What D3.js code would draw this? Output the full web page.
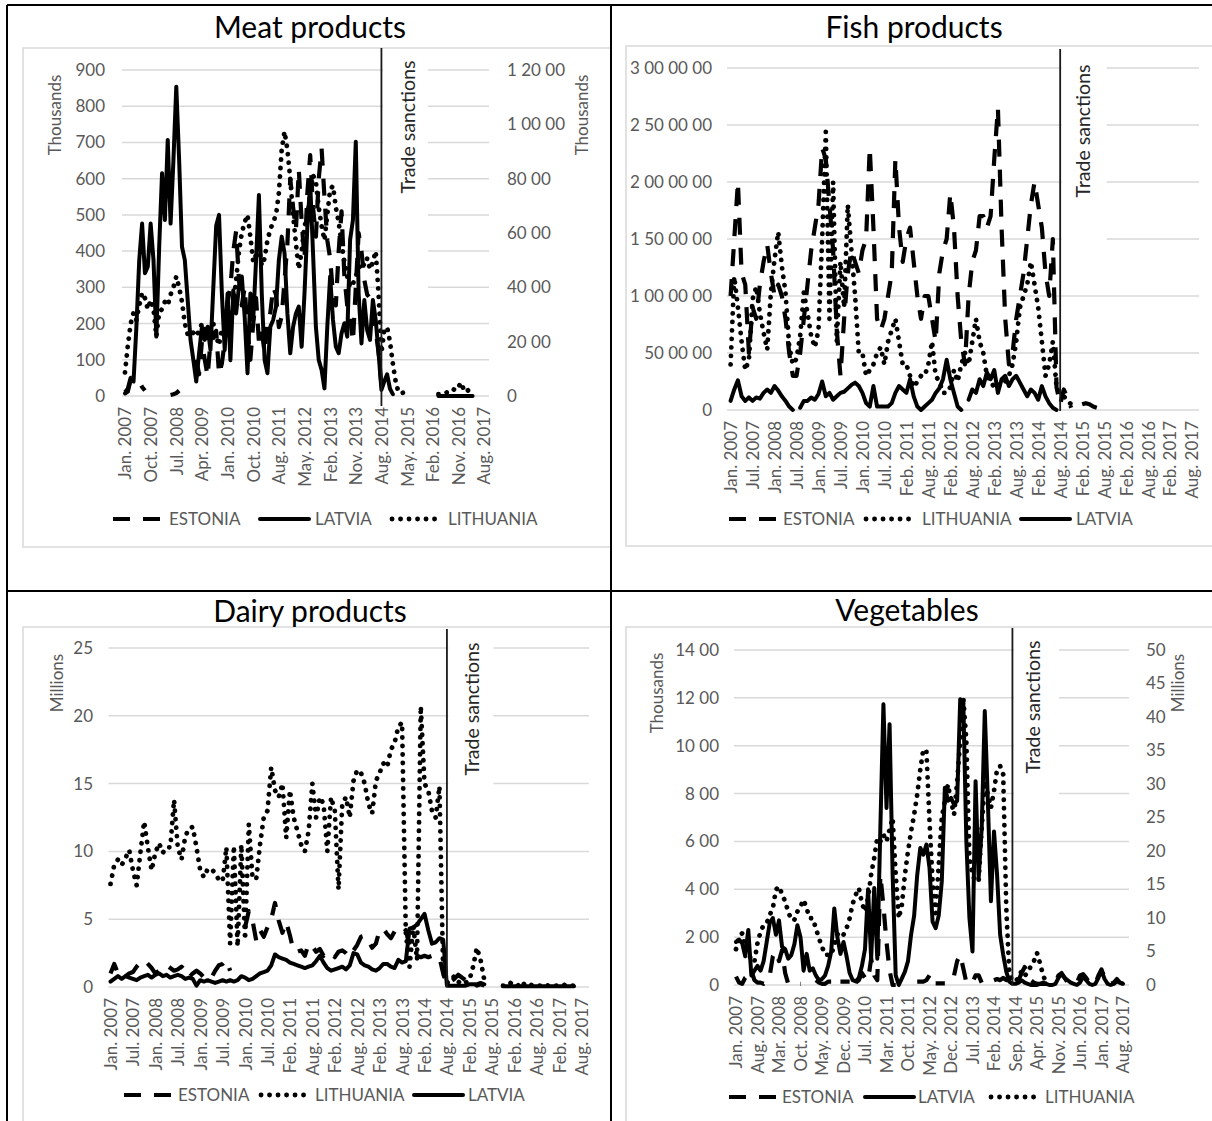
<!DOCTYPE html>
<html>
<head>
<meta charset="utf-8">
<script src="https://cdn.jsdelivr.net/npm/d3@7"></script>
<style>
  body { margin: 0; background: #fff; }
  svg text { font-family: Lato, "Open Sans", sans-serif; }
</style>
</head>
<body>
<svg id="chart" width="1212" height="1121"></svg>
<script>
// Month labels, Jan. 2007 - Aug. 2017 (Dec. 2010 is absent from the source series)
const MONTHS = ["Jan.", "Feb.", "Mar.", "Apr.", "May.", "Jun.", "Jul.", "Aug.", "Sep.", "Oct.", "Nov.", "Dec."];
const categories = [];
for (let yr = 2007; yr <= 2017; yr++) {
    for (let m = 0; m < 12; m++) {
        if (yr === 2017 && m > 7) break;
        if (yr === 2010 && m === 11) continue;
        categories.push(`${MONTHS[m]} ${yr}`);
    }
}
const SANCTIONS = "Aug. 2014";
const _ = null;

// ---- Meat products (thousands) ----
const meatEstonia = [
    10, 20, 50, 50, 45, 40, 25, 15, _, _,
    _, _, _, _, _, _, 3, 5, 8, 15,
    _, _, _, _, _, 100, 60, 150, 100, 55,
    150, 160, 180, 60, 90, 150, 260, 300, 400, 455,
    320, 250, 300, 180, 100, 200, 270, 150, 180, 120,
    200, 230, 300, 280, 190, 220, 320, 420, 600, 520,
    460, 625, 480, 380, 560, 665, 520, 440, 600, 683,
    550, 430, 380, 280, 250, 400, 510, 330, 250, 220,
    150, 300, 450, 400, 320, 280, 270, 250, 180, 120,
    30, 20, 10, _, _, _, _, _, _, _,
    _, _, _, _, _, _, _, _, _, _,
    _, _, _, _, _, _, _, _, _, _,
    _, _, _, _, _, _, _
];
const meatLatvia = [
    7, 12, 44, 40, 191, 375, 476, 339, 357, 476,
    375, 164, 412, 615, 486, 707, 476, 651, 854, 651,
    412, 375, 265, 155, 99, 40, 118, 191, 155, 191,
    127, 300, 470, 500, 283, 127, 283, 99, 292, 228,
    302, 330, 219, 63, 283, 210, 375, 555, 283, 99,
    63, 191, 210, 247, 375, 440, 394, 228, 118, 191,
    228, 247, 136, 283, 467, 587, 394, 191, 99, 72,
    21, 191, 330, 210, 136, 118, 173, 201, 164, 431,
    486, 702, 283, 145, 265, 182, 155, 265, 210, 118,
    17, 40, 60, 20, 5, _, _, _, _, _,
    _, _, _, _, _, _, _, _, _, _,
    0, 0, 0, 0, 0, 0, 0, 0, 0, 0,
    0, 0, 0, _, _, _, _
];
const meatLithuania = [
    65, 140, 200, 230, 210, 250, 285, 270, 240, 265,
    240, 165, 230, 240, 260, 250, 280, 300, 330, 300,
    260, 200, 170, 165, 175, 165, 180, 200, 190, 160,
    175, 200, 165, 140, 185, 170, 190, 200, 250, 320,
    400, 450, 480, 500, 440, 370, 390, 410, 360, 380,
    430, 460, 480, 500, 560, 680, 730, 680, 600, 500,
    420, 350, 400, 470, 490, 560, 610, 590, 520, 470,
    430, 500, 570, 580, 520, 480, 420, 370, 330, 300,
    310, 330, 350, 370, 360, 380, 350, 370, 400, 280,
    120, 180, 190, 150, 90, 40, 10, 8, 10, 8,
    8, _, _, 5, _, _, _, 10, _, _,
    5, 5, 8, 10, 15, 20, 15, 25, 37, 15,
    20, 8, _, _, _, _, _
];

// ---- Fish products (millions) ----
const fishEstonia = [
    10, 15, 20, 12, 11, 5, 9, 8, 11, 13,
    14.5, 12, 10, 11, 10, 8, 5, 3, 3, 5,
    8, 11, 14, 16, 18, 23, 22, 18, 14, 7,
    3, 8, 12, 14, 13, 12, 14, 15, 23, 16,
    8, 7, 8, 10, 12, 22, 16, 13, 15, 16,
    13, 10, 8, 10, 10, 8, 6, 12, 14, 15,
    19, 16, 10, 6, 4, 10, 13, 14, 17, 17,
    16, 17, 22, 26.5, 16, 8, 4, 5, 8, 10,
    12, 15, 18, 20, 18, 16, 12, 10, 15, 2,
    0.5, 1.8, 1.0, 0.2, _, _, 0.5, 0.6, 0.5, 0.3,
    0.2, _, _, _, _, _, _, _, _, _,
    _, _, _, _, _, _, _, _, _, _,
    _, _, _, _, _, _, _
];
const fishLatvia = [
    0.8, 1.8, 2.6, 1.2, 0.8, 1.1, 0.8, 1.1, 1.0, 1.5,
    1.8, 1.5, 2.1, 1.7, 1.2, 0.8, 0.3, 0, _, 0.2,
    0.8, 0.8, 1.1, 0.9, 1.4, 2.5, 1.2, 1.5, 0.9, 1.2,
    1.5, 1.6, 1.9, 2.2, 2.4, 2.1, 1.5, 0.6, 0.3, 2.1,
    0.3, 0.3, 0.3, 0.3, 0.6, 1.5, 2.1, 1.8, 1.5, 2.7,
    1.2, 0.3, 0, 0.3, 0.6, 0.9, 1.5, 1.9, 2.7, 4.4,
    2.7, 1.5, 0.3, 0, _, 0.9, 1.8, 1.5, 2.7, 2.1,
    3.3, 2.7, 3.5, 1.5, 2.7, 3.0, 2.1, 2.7, 3.0, 2.4,
    1.8, 1.2, 1.8, 1.5, 0.9, 2.1, 1.2, 0.6, 0.2, 0,
    _, _, _, _, _, _, _, _, _, _,
    _, _, _, _, _, _, _, _, _, _,
    _, _, _, _, _, _, _, _, _, _,
    _, _, _, _, _, _, _
];
const fishLithuania = [
    4, 11.7, 9, 6, 3.5, 4.4, 9.7, 10.8, 8.5, 6.8,
    5.3, 10.3, 13.2, 15.6, 12.6, 10.3, 5.6, 4, 4.5, 6.5,
    10.3, 8.5, 6.5, 5.5, 7, 15, 24.4, 8, 20, 6,
    13, 9, 18, 14, 10, 5, 5, 3, 3.5, 4,
    5, 5.5, 4, 6, 7, 8, 6, 4, 4, 3,
    2, 2.5, 3, 3, 4, 6, 3, 2.5, 1.5, 1.5,
    2, 3.5, 2.5, 4, 5, 4, 6, 8, 6, 5,
    3, 2.5, 2, 2, 2.5, 2.5, 3, 4, 6, 9,
    10, 11, 13, 11, 9, 6, 3, 4, 6, 2,
    1.5, 1.2, 0.8, 0.5, _, _, _, _, _, _,
    _, _, _, _, _, _, _, _, _, _,
    _, _, _, _, _, _, _, _, _, _,
    _, _, _, _, _, _, _
];

// ---- Dairy products (millions) ----
const dairyEstonia = [
    1.0, 1.7, 1.0, 0.7, 0.8, 1.0, 1.1, 1.5, 1.8, 2.0,
    1.7, 1.4, 1.0, 1.2, 1.3, 1.6, 1.4, 1.2, 1.3, 1.5,
    1.2, 0.7, 1.0, 1.2, 1.0, 0.7, 0.5, 0.7, 1.2, 1.6,
    1.7, 2.0, 1.2, _, _, _, 4.4, 5.6, 4.9, 3.4,
    4.2, 3.7, 4.4, 5.0, 6.2, 4.9, 4.0, 4.8, 3.8, 2.6,
    2.6, 2.7, 2.3, 3.2, 3.0, 2.6, 2.8, 2.3, 2.6, 2.5,
    2.2, 2.6, 2.7, 2.5, 2.2, 2.7, 3.1, 3.7, 3.8, 3.4,
    2.9, 3.2, 4.2, 4.3, 3.9, 3.6, 4.1, 4.2, 3.9, 4.2,
    3.0, 2.4, 2.3, 2.2, 2.3, 2.2, 2.3, 2.2, 2.2, 1.0,
    0.2, 0.4, 0.6, 0.9, 0.7, 0.5, 0.2, 0.3, 0.1, 0.2,
    0.1, _, _, _, _, _, _, _, _, _,
    _, _, _, _, _, _, _, _, _, _,
    _, _, _, _, _, _, _
];
const dairyLatvia = [
    0.4, 0.6, 0.8, 0.6, 0.8, 0.7, 0.6, 0.5, 0.7, 0.8,
    0.9, 0.7, 0.9, 1.0, 0.8, 0.9, 0.7, 0.8, 0.9, 0.8,
    0.6, 0.7, 0.6, 0.1, 0.5, 0.4, 0.5, 0.4, 0.3, 0.4,
    0.5, 0.4, 0.5, 0.4, 0.5, 0.8, 0.7, 0.5, 0.6, 0.8,
    1.0, 1.1, 1.2, 1.6, 2.4, 2.2, 2.1, 2.0, 1.8, 1.7,
    1.6, 1.5, 1.4, 1.5, 1.6, 1.9, 2.3, 1.8, 1.4, 1.2,
    1.3, 1.4, 1.5, 1.3, 1.6, 2.5, 2.4, 1.8, 1.6, 1.5,
    1.3, 1.2, 1.4, 1.7, 1.7, 1.5, 1.4, 2.0, 1.8, 1.9,
    4.3, 4.4, 4.6, 5.0, 5.4, 4.2, 3.2, 3.3, 3.6, 3.5,
    0.1, 0.1, 0.1, 0.1, 0.1, 0.1, 0.2, 0.2, 0.2, 0.3,
    0.2, _, _, _, _, 0.05, 0.05, 0.05, 0.05, 0.05,
    0.05, 0.05, 0.05, 0.05, 0.05, 0.05, 0.05, 0.05, 0.05, 0.05,
    0.05, 0.05, 0.05, 0.05, 0.05, _, _
];
const dairyLithuania = [
    7.6, 9.0, 9.4, 9.0, 9.5, 10.1, 8.6, 7.5, 9.9, 12.2,
    10.3, 8.6, 9.9, 10.6, 9.9, 10.3, 10.3, 13.8, 10.3, 9.4,
    11.1, 11.7, 11.8, 10.3, 8.6, 8.1, 8.7, 8.7, 8.4, 7.9,
    7.8, 10.3, 3.2, 10.4, 3.0, 10.5, 3.5, 12.0, 8.0, 8.0,
    10.5, 12.5, 13.0, 16.2, 14.5, 14.0, 15.0, 11.0, 14.5, 12.5,
    11.5, 10.5, 10.0, 11.5, 15.0, 12.5, 14.0, 13.5, 10.0, 14.0,
    13.0, 7.2, 13.5, 14.0, 12.5, 15.2, 16.0, 15.8, 15.0, 13.5,
    12.8, 15.2, 15.8, 16.5, 16.2, 17.5, 18.0, 19.2, 19.5, 4.0,
    1.5, 4.5, 2.0, 20.7, 15.0, 14.5, 13.0, 12.5, 14.8, 1.0,
    0.3, 0.5, 0.8, 0.4, 0.2, 0.3, 0.5, 1.5, 2.9, 2.0,
    0.5, _, _, _, _, 0.1, 0.1, 0.3, 0.1, 0.1,
    0.4, 0.1, 0.2, 0.1, 0.1, 0.1, 0.2, 0.1, 0.1, 0.1,
    0.1, 0.2, 0.1, 0.1, 0.1, _, _
];

// ---- Vegetables (thousands) ----
const vegEstonia = [
    35, 10, 5, 30, 40, 60, 20, 10, 10, 5,
    15, 40, 120, 140, 100, 146, 50, 5, 5, 5,
    5, 5, _, _, _, _, 20, 10, 5, 5,
    14, 14, 14, _, 14, 14, 14, 14, _, 10,
    20, 50, 30, 20, 110, 40, 20, 460, 330, 180,
    60, 0, 0, _, _, _, _, _, _, 14,
    14, 14, 20, 40, _, 7, 7, 7, 7, _,
    _, 40, 100, 126, 70, 10, 5, 10, 40, 40,
    10, _, _, _, 20, 25, 20, 30, 20, 25,
    40, 30, 20, 50, 75, 50, 20, 10, 5, 5,
    5, 5, 10, 10, 10, 40, 50, 30, 10, 5,
    5, 10, 40, 45, 30, 10, 5, 5, 40, 65,
    30, 10, 5, 10, 25, 10, 5
];
const vegLatvia = [
    180, 190, 175, 120, 230, 40, 60, 80, 60, 100,
    180, 260, 280, 210, 270, 160, 150, 110, 125, 170,
    250, 200, 60, 130, 60, 70, 40, 20, 25, 40,
    80, 140, 320, 200, 130, 180, 120, 50, 20, 15,
    30, 80, 150, 400, 110, 405, 110, 656, 1173, 740,
    1090, 460, 40, 0, 28, 56, 100, 210, 290, 460,
    573, 545, 587, 490, 265, 237, 290, 433, 824, 770,
    782, 754, 770, 1194, 1187, 600, 280, 140, 852, 447,
    656, 1145, 770, 350, 642, 460, 210, 126, 56, 14,
    5, 5, 10, 20, 10, 5, 0, 0, 0, 5,
    10, 5, 0, 0, 5, 30, 45, 30, 20, 10,
    5, 0, 10, 35, 20, 5, 0, 5, 30, 60,
    25, 5, 0, 5, 15, 10, 5
];
const vegLithuania = [
    150, 200, 216, 160, 140, 100, 98, 175, 223, 251,
    258, 293, 321, 398, 412, 380, 349, 307, 272, 272,
    307, 328, 356, 320, 279, 279, 237, 195, 160, 126,
    126, 126, 168, 210, 223, 210, 237, 279, 340, 377,
    405, 342, 307, 363, 461, 531, 615, 600, 628, 600,
    650, 698, 461, 279, 335, 461, 559, 642, 712, 796,
    900, 985, 978, 684, 433, 300, 500, 700, 768, 838,
    770, 712, 850, 1020, 1201, 1020, 531, 461, 433, 433,
    656, 852, 796, 740, 810, 901, 915, 880, 321, 42,
    20, 15, 30, 60, 40, 50, 80, 100, 134, 90,
    40, 10, _, _, _, 5, _, _, _, _,
    _, _, _, _, _, _, _, _, _, _,
    _, _, _, _, _, _, _
];

// Axis ticks and their printed labels
const meatTicks = [0, 100, 200, 300, 400, 500, 600, 700, 800, 900];
const meatTickLabels = ["0", "100", "200", "300", "400", "500", "600", "700", "800", "900"];
const meatRightTicks = [0, 2000, 4000, 6000, 8000, 10000, 12000];
const meatRightLabels = ["0", "20 00", "40 00", "60 00", "80 00", "1 00 00", "1 20 00"];
const fishTicks = [0, 5, 10, 15, 20, 25, 30];
const fishTickLabels = ["0", "50 00 00", "1 00 00 00", "1 50 00 00", "2 00 00 00", "2 50 00 00", "3 00 00 00"];
const dairyTicks = [0, 5, 10, 15, 20, 25];
const dairyTickLabels = ["0", "5", "10", "15", "20", "25"];
const vegTicks = [0, 200, 400, 600, 800, 1000, 1200, 1400];
const vegTickLabels = ["0", "2 00", "4 00", "6 00", "8 00", "10 00", "12 00", "14 00"];
const vegRightTicks = [0, 5, 10, 15, 20, 25, 30, 35, 40, 45, 50];
const vegRightLabels = ["0", "5", "10", "15", "20", "25", "30", "35", "40", "45", "50"];

const STYLE = {
    ESTONIA: { dash: "17,13", cap: "butt", width: 4.2 },
    LATVIA: { dash: null, cap: "round", width: 4 },
    LITHUANIA: { dash: "0.1,8.4", cap: "round", width: 4.8 }
};

const panels = [
    {
        title: "Meat products", titleX: 310, titleY: 38,
        area: [23, 48, 611, 547], gx: [122, 489], cx: [125, 484],
        yBase: 396, yTop: 70, yMax: 900, ticks: meatTicks, tickLabels: meatTickLabels, labelRight: 105,
        right: { max: 12000, ticks: meatRightTicks, labels: meatRightLabels, labelLeft: 507 },
        every: 9, sancTop: 48, sancBottom: 406, boxBottom: 300,
        sancText: [408, 127], yTitles: [["Thousands", 55, 115], ["Thousands", 582, 115]],
        series: [["ESTONIA", meatEstonia], ["LATVIA", meatLatvia], ["LITHUANIA", meatLithuania]],
        legendY: 519, legend: [["ESTONIA", 113, 169], ["LATVIA", 260, 315], ["LITHUANIA", 392, 448]]
    },
    {
        title: "Fish products", titleX: 914, titleY: 38,
        area: [626, 46, 1220, 546], gx: [727, 1199], cx: [730.6, 1192],
        yBase: 410, yTop: 68, yMax: 30, ticks: fishTicks, tickLabels: fishTickLabels, labelRight: 712,
        right: null,
        every: 6, sancTop: 49, sancBottom: 411, boxBottom: 262,
        sancText: [1083, 131], yTitles: [],
        series: [["ESTONIA", fishEstonia], ["LITHUANIA", fishLithuania], ["LATVIA", fishLatvia]],
        legendY: 519, legend: [["ESTONIA", 729, 783], ["LITHUANIA", 866, 922], ["LATVIA", 1021, 1076]]
    },
    {
        title: "Dairy products", titleX: 310, titleY: 622,
        area: [23, 627, 611, 1140], gx: [108.5, 589], cx: [110.5, 581.5],
        yBase: 987, yTop: 648, yMax: 25, ticks: dairyTicks, tickLabels: dairyTickLabels, labelRight: 93,
        right: null,
        every: 6, sancTop: 629, sancBottom: 987, boxBottom: 812,
        sancText: [472, 709], yTitles: [["Millions", 57, 683]],
        series: [["ESTONIA", dairyEstonia], ["LITHUANIA", dairyLithuania], ["LATVIA", dairyLatvia]],
        legendY: 1095, legend: [["ESTONIA", 124, 178], ["LITHUANIA", 261, 315], ["LATVIA", 414, 468]]
    },
    {
        title: "Vegetables", titleX: 907, titleY: 621,
        area: [626, 627, 1220, 1140], gx: [734, 1129], cx: [736, 1123],
        yBase: 985, yTop: 650, yMax: 1400, ticks: vegTicks, tickLabels: vegTickLabels, labelRight: 719,
        right: { max: 50, ticks: vegRightTicks, labels: vegRightLabels, labelLeft: 1146 },
        every: 7, sancTop: 628, sancBottom: 985, boxBottom: 816,
        sancText: [1033, 707], yTitles: [["Thousands", 657, 693], ["Millions", 1178, 683]],
        series: [["ESTONIA", vegEstonia], ["LATVIA", vegLatvia], ["LITHUANIA", vegLithuania]],
        legendY: 1097, legend: [["ESTONIA", 729, 782], ["LATVIA", 865, 918], ["LITHUANIA", 991, 1045]]
    }
];

const svg = d3.select("#chart");
const GRID = "#d9d9d9", GREY = "#595959", TICK_SIZE = "17px";

function styleText(sel, size, color) {
    sel.style("font-family", "Lato, 'Open Sans', sans-serif")
        .style("font-size", size)
        .attr("fill", color);
}

function drawPanel(p) {
    const g = svg.append("g");

    // chart area frame
    g.append("rect")
        .attr("x", p.area[0]).attr("y", p.area[1])
        .attr("width", p.area[2] - p.area[0]).attr("height", p.area[3] - p.area[1])
        .attr("fill", "none").attr("stroke", GRID).attr("stroke-width", 1.5);

    const x = d3.scalePoint().domain(categories).range(p.cx);
    const y = d3.scaleLinear().domain([0, p.yMax]).range([p.yBase, p.yTop]);

    // gridlines
    g.append("g").selectAll("line")
        .data(p.ticks)
        .join("line")
        .attr("x1", p.gx[0]).attr("x2", p.gx[1])
        .attr("y1", d => y(d)).attr("y2", d => y(d))
        .attr("stroke", GRID).attr("stroke-width", 1.5);

    // left axis labels
    const yAxis = d3.axisLeft(y)
        .tickValues(p.ticks)
        .tickFormat((d, i) => p.tickLabels[i])
        .tickSize(0)
        .tickPadding(p.gx[0] - p.labelRight);
    const ya = g.append("g").attr("transform", `translate(${p.gx[0]},0)`).call(yAxis);
    ya.select(".domain").remove();
    styleText(ya.selectAll("text"), TICK_SIZE, GREY);

    // secondary axis
    if (p.right) {
        const y2 = d3.scaleLinear().domain([0, p.right.max]).range([p.yBase, p.yTop]);
        const y2Axis = d3.axisRight(y2)
            .tickValues(p.right.ticks)
            .tickFormat((d, i) => p.right.labels[i])
            .tickSize(0)
            .tickPadding(p.right.labelLeft - p.gx[1]);
        const ra = g.append("g").attr("transform", `translate(${p.gx[1]},0)`).call(y2Axis);
        ra.select(".domain").remove();
        styleText(ra.selectAll("text"), TICK_SIZE, GREY);
    }

    // category axis, rotated labels
    const xAxis = d3.axisBottom(x)
        .tickValues(categories.filter((d, i) => i % p.every === 0))
        .tickSize(0);
    const xa = g.append("g").attr("transform", `translate(0,${p.yBase})`).call(xAxis);
    xa.select(".domain").remove();
    xa.selectAll("text")
        .attr("transform", "rotate(-90)")
        .attr("text-anchor", "end")
        .attr("x", -11).attr("y", 0).attr("dy", "0.35em");
    styleText(xa.selectAll("text"), TICK_SIZE, GREY);

    // axis titles
    p.yTitles.forEach(([txt, tx, ty]) => {
        const t = g.append("text")
            .attr("transform", `translate(${tx},${ty}) rotate(-90)`)
            .attr("text-anchor", "middle").attr("dy", "0.35em")
            .text(txt);
        styleText(t, TICK_SIZE, GREY);
    });

    // white box behind the "Trade sanctions" label
    const sx = x(SANCTIONS);
    g.append("rect")
        .attr("x", sx + 1.5).attr("y", p.area[1] + 1)
        .attr("width", 45).attr("height", p.boxBottom - p.area[1] - 1)
        .attr("fill", "#fff");

    // series lines
    const line = d3.line()
        .defined(d => d != null)
        .x((d, i) => x(categories[i]))
        .y(d => y(d));
    p.series.forEach(([name, values]) => {
        const st = STYLE[name];
        g.append("path")
            .datum(values)
            .attr("d", line)
            .attr("fill", "none")
            .attr("stroke", "#000")
            .attr("stroke-width", st.width)
            .attr("stroke-linejoin", "round")
            .attr("stroke-linecap", st.cap)
            .attr("stroke-dasharray", st.dash);
    });

    g.append("line")
        .attr("x1", sx).attr("x2", sx)
        .attr("y1", p.sancTop).attr("y2", p.sancBottom)
        .attr("stroke", "#1a1a1a").attr("stroke-width", 1.8);
    const st = g.append("text")
        .attr("transform", `translate(${p.sancText[0]},${p.sancText[1]}) rotate(-90)`)
        .attr("text-anchor", "middle").attr("dy", "0.35em")
        .text("Trade sanctions");
    styleText(st, "19.5px", "#262626");

    // title
    const tt = g.append("text")
        .attr("x", p.titleX).attr("y", p.titleY)
        .attr("text-anchor", "middle")
        .text(p.title);
    styleText(tt, "30px", "#000");

    // legend
    p.legend.forEach(([name, lx, tx]) => {
        const s = STYLE[name];
        g.append("line")
            .attr("x1", lx).attr("x2", lx + 49)
            .attr("y1", p.legendY).attr("y2", p.legendY)
            .attr("stroke", "#000").attr("stroke-width", s.width)
            .attr("stroke-linecap", s.cap)
            .attr("stroke-dasharray", s.dash);
        const lt = g.append("text")
            .attr("x", tx).attr("y", p.legendY).attr("dy", "0.35em")
            .text(name);
        styleText(lt, TICK_SIZE, GREY);
    });
}

panels.forEach(drawPanel);

// table borders around the four figures
const borders = [
    [7, 5, 1212, 5],
    [7, 5, 7, 1121],
    [611, 5, 611, 1121],
    [7, 591, 1212, 591]
];
svg.append("g").selectAll("line")
    .data(borders)
    .join("line")
    .attr("x1", d => d[0]).attr("y1", d => d[1])
    .attr("x2", d => d[2]).attr("y2", d => d[3])
    .attr("stroke", "#000").attr("stroke-width", 2);
</script>
</body>
</html>
